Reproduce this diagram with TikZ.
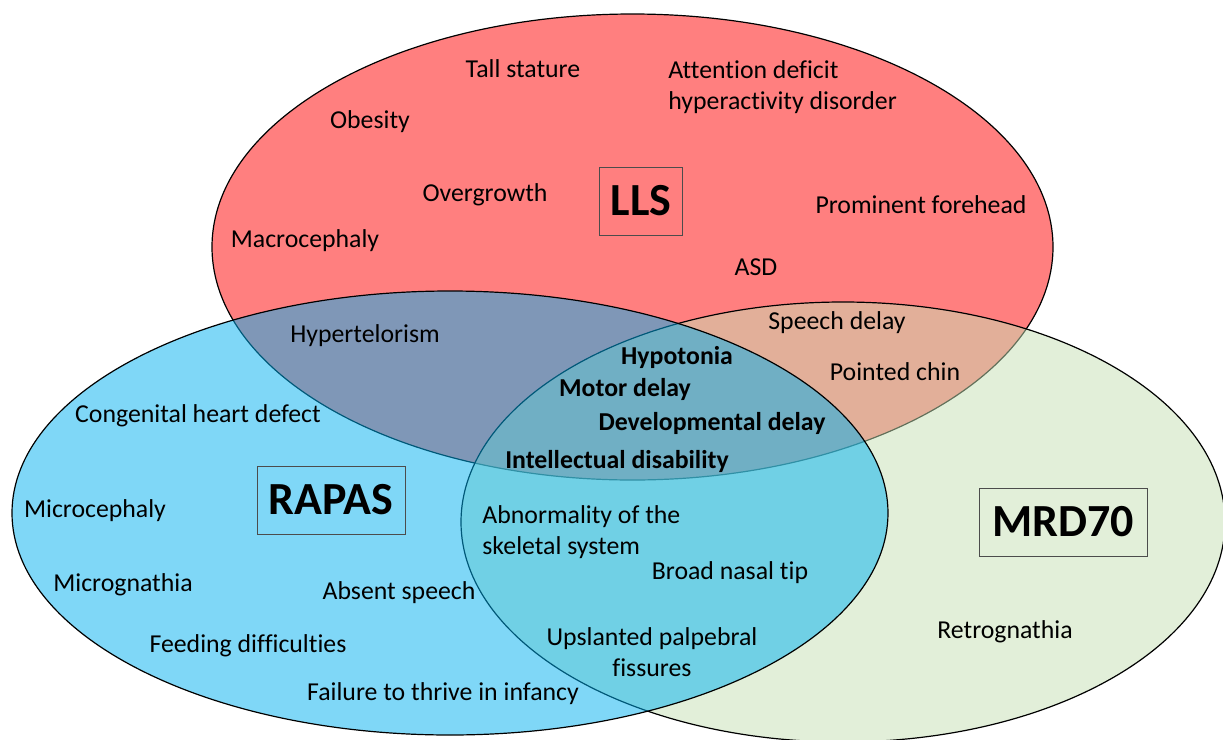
\documentclass[tikz,border=0pt]{standalone}
\usepackage{fontspec}
\setmainfont{Carlito}[Ligatures=NoCommon]

\definecolor{llsred}{HTML}{FF0000}
\definecolor{rapasblue}{HTML}{00B0F0}
\definecolor{mrdgreen}{HTML}{C5E0B4}

\tikzset{
	disease/.style={draw=black, line width=0.6pt, fill opacity=0.5},
	trait/.style={font=\fontsize{12.9}{15.5}\selectfont, inner sep=0pt, yshift=-1pt},
	core/.style={font=\fontsize{12.9}{15.5}\selectfont\bfseries, inner sep=0pt, yshift=-1pt},
	syndrome/.style={draw=black!70, line width=0.5pt, font=\fontsize{23}{27}\selectfont\bfseries, minimum height=34pt, inner sep=0pt}
}

\begin{document}
\begin{tikzpicture}[x=0.5pt, y=-0.5pt]

		\useasboundingbox (0,0) rectangle (1223,740);

		% the three syndromes
		\filldraw[disease, fill=llsred] (632.5,247) ellipse [x radius=420.5, y radius=233];
		\filldraw[disease, fill=mrdgreen] (843,522) ellipse [x radius=382, y radius=220];
		\filldraw[disease, fill=rapasblue] (450,513) ellipse [x radius=438, y radius=222];

		\node[syndrome, minimum width=41.5pt] (lls) at (641,201) {LLS};
		\node[syndrome, minimum width=74pt] (rapas) at (331,500) {RAPAS};
		\node[syndrome, minimum width=84pt] (mrd) at (1063,522) {MRD70};

		% LLS only
		\node[trait] (tall) at (523,67) {Tall stature};
		\node[trait, align=left, anchor=west] (adhd) at (668,85) {Attention deficit\\hyperactivity disorder};
		\node[trait] (obesity) at (370,120) {Obesity};
		\node[trait] (overgrowth) at (485,193) {Overgrowth};
		\node[trait] (forehead) at (921,203) {Prominent forehead};
		\node[trait] (macro) at (305,239) {Macrocephaly};
		\node[trait] (asd) at (756,265) {ASD};

		% LLS and RAPAS
		\node[trait] (hypertel) at (365,334) {Hypertelorism};

		% LLS and MRD70
		\node[trait] (speech) at (837,321) {Speech delay};
		\node[trait] (chin) at (895,370) {Pointed chin};

		% all three
		\node[core] (hypotonia) at (677,355) {Hypotonia};
		\node[core] (motor) at (625,387) {Motor delay};
		\node[core] (devdelay) at (712,421) {Developmental delay};
		\node[core] (intellect) at (617,459) {Intellectual disability};

		% RAPAS only
		\node[trait] (heart) at (198,414) {Congenital heart defect};
		\node[trait] (microceph) at (95,509) {Microcephaly};
		\node[trait] (micrognath) at (123,583) {Micrognathia};
		\node[trait] (absent) at (399,591) {Absent speech};
		\node[trait] (feeding) at (248,644) {Feeding difficulties};
		\node[trait] (thrive) at (443,692) {Failure to thrive in infancy};

		% RAPAS and MRD70
		\node[trait, align=left, anchor=west] (skeletal) at (482,530) {Abnormality of the\\skeletal system};
		\node[trait] (nasal) at (730,571) {Broad nasal tip};
		\node[trait, align=center] (palpebral) at (652,650) {Upslanted palpebral\\fissures};

		% MRD70 only
		\node[trait] (retro) at (1005,630) {Retrognathia};

	\end{tikzpicture}
\end{document}
